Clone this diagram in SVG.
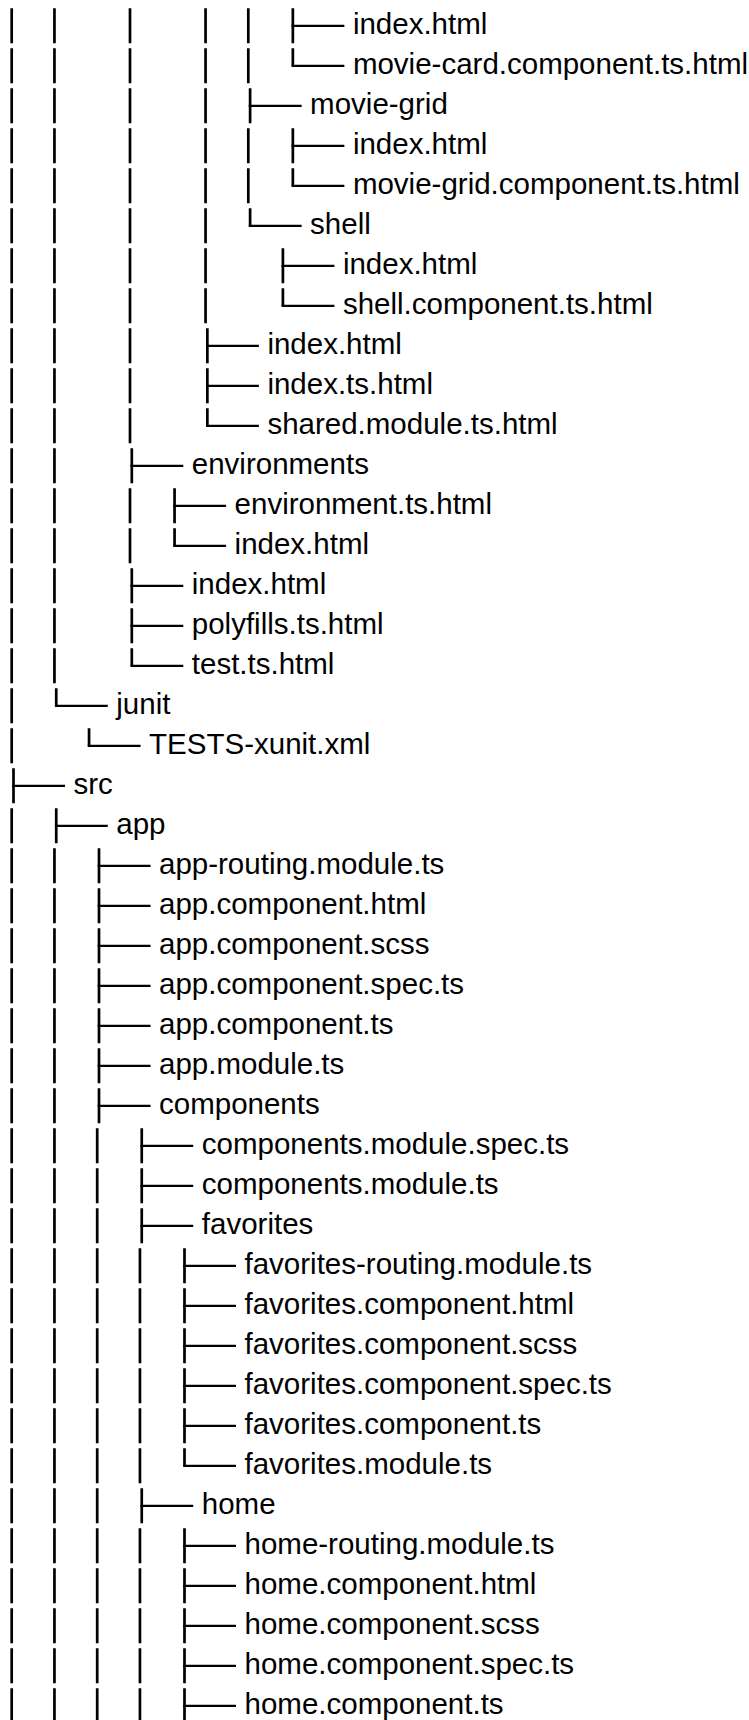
<svg xmlns="http://www.w3.org/2000/svg" width="749" height="1720" viewBox="0 0 749 1720">
<style>
.t{font-family:"Liberation Sans",Arial,sans-serif;font-size:29.5px;fill:#000}
.b{stroke:#000;stroke-width:2.7;fill:none;stroke-dasharray:35 5}
.v{stroke:#000;stroke-width:2.7;fill:none}
.h{stroke:#000;stroke-width:2.2;fill:none}
</style>
<rect width="749" height="1720" fill="#fff"/>
<g id="connectors">
<path class="b" d="M11.7 8.3V763.3M11.7 808.3V1723.3M54.45 8.3V683.3M54.45 848.3V1723.3M130 8.3V443.3M130 488.3V563.3M205.55 8.3V323.3M248.3 8.3V83.3M248.3 128.3V203.3M97.2 1128.3V1723.3M139.95 1248.3V1483.3M139.95 1528.3V1723.3"/>
<path class="v" d="M292.85 8.3V43.3M292.85 48.3V65.8M250.1 88.3V123.3M292.85 128.3V163.3M292.85 168.3V185.8M250.1 208.3V225.8M282.9 248.3V283.3M282.9 288.3V305.8M207.35 328.3V363.3M207.35 368.3V403.3M207.35 408.3V425.8M131.8 448.3V483.3M174.55 488.3V523.3M174.55 528.3V545.8M131.8 568.3V603.3M131.8 608.3V643.3M131.8 648.3V665.8M56.25 688.3V705.8M89.05 728.3V745.8M13.5 768.3V803.3M56.25 808.3V843.3M99 848.3V883.3M99 888.3V923.3M99 928.3V963.3M99 968.3V1003.3M99 1008.3V1043.3M99 1048.3V1083.3M99 1088.3V1123.3M141.75 1128.3V1163.3M141.75 1168.3V1203.3M141.75 1208.3V1243.3M184.5 1248.3V1283.3M184.5 1288.3V1323.3M184.5 1328.3V1363.3M184.5 1368.3V1403.3M184.5 1408.3V1443.3M184.5 1448.3V1465.8M141.75 1488.3V1523.3M184.5 1528.3V1563.3M184.5 1568.3V1603.3M184.5 1608.3V1643.3M184.5 1648.3V1683.3M184.5 1688.3V1723.3"/>
<path class="h" d="M291.5 25.8H344.35M291.5 65.8H344.35M248.75 105.8H301.6M291.5 145.8H344.35M291.5 185.8H344.35M248.75 225.8H301.6M281.55 265.8H334.4M281.55 305.8H334.4M206 345.8H258.85M206 385.8H258.85M206 425.8H258.85M130.45 465.8H183.3M173.2 505.8H226.05M173.2 545.8H226.05M130.45 585.8H183.3M130.45 625.8H183.3M130.45 665.8H183.3M54.9 705.8H107.75M87.7 745.8H140.55M12.15 785.8H65M54.9 825.8H107.75M97.65 865.8H150.5M97.65 905.8H150.5M97.65 945.8H150.5M97.65 985.8H150.5M97.65 1025.8H150.5M97.65 1065.8H150.5M97.65 1105.8H150.5M140.4 1145.8H193.25M140.4 1185.8H193.25M140.4 1225.8H193.25M183.15 1265.8H236M183.15 1305.8H236M183.15 1345.8H236M183.15 1385.8H236M183.15 1425.8H236M183.15 1465.8H236M140.4 1505.8H193.25M183.15 1545.8H236M183.15 1585.8H236M183.15 1625.8H236M183.15 1665.8H236M183.15 1705.8H236"/>
</g>
<g id="n1"><text class="t" x="352.9" y="34">index.html</text></g>
<g id="n2"><text class="t" x="352.9" y="74">movie-card.component.ts.html</text></g>
<g id="n3"><text class="t" x="310.1" y="114">movie-grid</text></g>
<g id="n4"><text class="t" x="352.9" y="154">index.html</text></g>
<g id="n5"><text class="t" x="352.9" y="194">movie-grid.component.ts.html</text></g>
<g id="n6"><text class="t" x="310.1" y="234">shell</text></g>
<g id="n7"><text class="t" x="342.9" y="274">index.html</text></g>
<g id="n8"><text class="t" x="342.9" y="314">shell.component.ts.html</text></g>
<g id="n9"><text class="t" x="267.4" y="354">index.html</text></g>
<g id="n10"><text class="t" x="267.4" y="394">index.ts.html</text></g>
<g id="n11"><text class="t" x="267.4" y="434">shared.module.ts.html</text></g>
<g id="n12"><text class="t" x="191.8" y="474">environments</text></g>
<g id="n13"><text class="t" x="234.6" y="514">environment.ts.html</text></g>
<g id="n14"><text class="t" x="234.6" y="554">index.html</text></g>
<g id="n15"><text class="t" x="191.8" y="594">index.html</text></g>
<g id="n16"><text class="t" x="191.8" y="634">polyfills.ts.html</text></g>
<g id="n17"><text class="t" x="191.8" y="674">test.ts.html</text></g>
<g id="n18"><text class="t" x="116.3" y="714">junit</text></g>
<g id="n19"><text class="t" x="149.1" y="754">TESTS-xunit.xml</text></g>
<g id="n20"><text class="t" x="73.5" y="794">src</text></g>
<g id="n21"><text class="t" x="116.3" y="834">app</text></g>
<g id="n22"><text class="t" x="159" y="874">app-routing.module.ts</text></g>
<g id="n23"><text class="t" x="159" y="914">app.component.html</text></g>
<g id="n24"><text class="t" x="159" y="954">app.component.scss</text></g>
<g id="n25"><text class="t" x="159" y="994">app.component.spec.ts</text></g>
<g id="n26"><text class="t" x="159" y="1034">app.component.ts</text></g>
<g id="n27"><text class="t" x="159" y="1074">app.module.ts</text></g>
<g id="n28"><text class="t" x="159" y="1114">components</text></g>
<g id="n29"><text class="t" x="201.8" y="1154">components.module.spec.ts</text></g>
<g id="n30"><text class="t" x="201.8" y="1194">components.module.ts</text></g>
<g id="n31"><text class="t" x="201.8" y="1234">favorites</text></g>
<g id="n32"><text class="t" x="244.5" y="1274">favorites-routing.module.ts</text></g>
<g id="n33"><text class="t" x="244.5" y="1314">favorites.component.html</text></g>
<g id="n34"><text class="t" x="244.5" y="1354">favorites.component.scss</text></g>
<g id="n35"><text class="t" x="244.5" y="1394">favorites.component.spec.ts</text></g>
<g id="n36"><text class="t" x="244.5" y="1434">favorites.component.ts</text></g>
<g id="n37"><text class="t" x="244.5" y="1474">favorites.module.ts</text></g>
<g id="n38"><text class="t" x="201.8" y="1514">home</text></g>
<g id="n39"><text class="t" x="244.5" y="1554">home-routing.module.ts</text></g>
<g id="n40"><text class="t" x="244.5" y="1594">home.component.html</text></g>
<g id="n41"><text class="t" x="244.5" y="1634">home.component.scss</text></g>
<g id="n42"><text class="t" x="244.5" y="1674">home.component.spec.ts</text></g>
<g id="n43"><text class="t" x="244.5" y="1714">home.component.ts</text></g>
</svg>
